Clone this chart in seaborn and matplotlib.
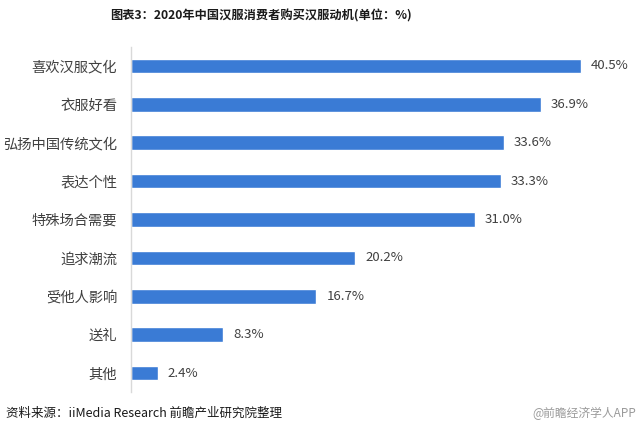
import matplotlib
matplotlib.use("Agg")
import matplotlib.pyplot as plt
import seaborn as sns
import pandas as pd

categories = ["喜欢汉服文化", "衣服好看", "弘扬中国传统文化", "表达个性", "特殊场合需要",
              "追求潮流", "受他人影响", "送礼", "其他"]
values = [40.5, 36.9, 33.6, 33.3, 31.0, 20.2, 16.7, 8.3, 2.4]
value_labels = ["40.5%", "36.9%", "33.6%", "33.3%", "31.0%", "20.2%", "16.7%", "8.3%", "2.4%"]

sns.set_style("white")
plt.rcParams['font.family'] = ['Noto Sans CJK SC', 'DejaVu Sans']

df = pd.DataFrame({"cat": categories, "val": values})

fig = plt.figure(figsize=(6.4, 4.26), dpi=100)
ax = fig.add_axes([131/640, 1-392.2/426, (625-131)/640, (392.2-46.8)/426])
sns.barplot(data=df, x="val", y="cat", orient="h", color="#3a7bd5", saturation=1,
            width=0.38, ax=ax)
ax.set_xlim(0, 44.5)
ax.set_ylim(8.5, -0.5)
ax.set_xlabel("")
ax.set_ylabel("")
ax.set_xticks([])
for s in ["top", "right", "bottom"]:
    ax.spines[s].set_visible(False)
ax.spines["left"].set_color("#d9d9d9")
ax.spines["left"].set_linewidth(1)
ax.tick_params(axis="y", length=0, pad=10, labelsize=10.3, labelcolor="#404040")

for i, (v, lab) in enumerate(zip(values, value_labels)):
    ax.text(v + 0.9, i, lab, va="center", ha="left", fontsize=9.5, color="#404040")

fig.text(261/640, 1-16/426, "图表3：2020年中国汉服消费者购买汉服动机(单位：%)",
         ha="center", va="center", fontsize=8.8, fontweight="bold", color="#1a1a1a")
fig.text(6/640, 1-413/426, "资料来源：iiMedia Research 前瞻产业研究院整理",
         ha="left", va="center", fontsize=9, color="#1a1a1a")
fig.text(636/640, 1-413/426, "@前瞻经济学人APP",
         ha="right", va="center", fontsize=8.5, color="#9a9a9a")

fig.savefig("out.png", dpi=100)
